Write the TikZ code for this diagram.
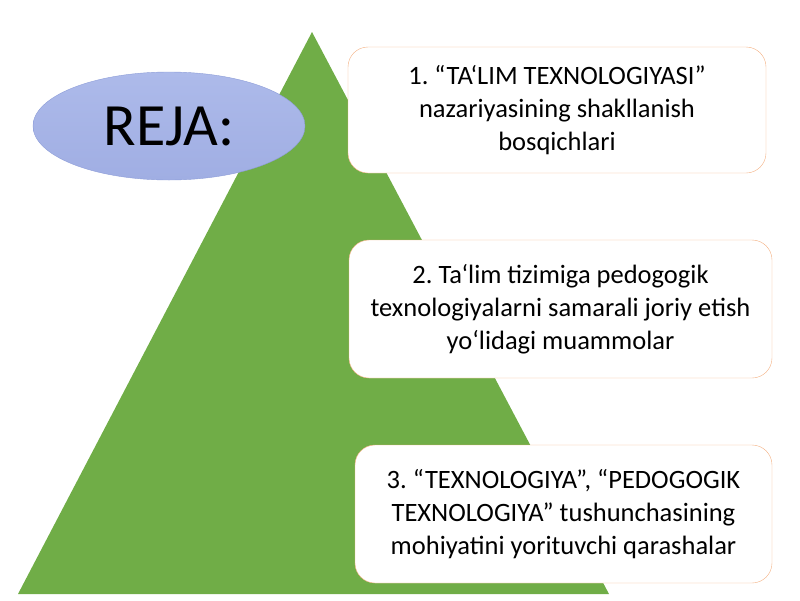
\documentclass[tikz,border=0pt]{standalone}
\usepackage{fontspec}
\setmainfont{Carlito}
\usepackage{tikz}
\usetikzlibrary{shapes.geometric}

\definecolor{trigreen}{HTML}{70AD47}
\definecolor{rejatop}{HTML}{ADBAEA}
\definecolor{rejabottom}{HTML}{A0AEE3}
\definecolor{rejaline}{HTML}{8D9DD8}
\definecolor{boxline}{HTML}{F4B183}
\frenchspacing

\begin{document}
\begin{tikzpicture}[x=1pt, y=-1pt]
  \useasboundingbox (0,0) rectangle (800,600);
  % green pyramid
  \fill[trigreen] (312,32) -- (609,594) -- (18,594) -- cycle;

  \draw node[ellipse, draw=rejaline, top color=rejatop, bottom color=rejabottom,
    minimum width=272pt, minimum height=108pt, inner sep=0pt,
    font=\fontsize{60}{72}\selectfont] (reja) at (169,126) {\raisebox{-4pt}{REJA:}};

\begin{scope}[every node/.style={rectangle, rounded corners=20pt, draw=boxline, fill=white,
    align=center, inner sep=0pt, font=\fontsize{26.5}{33}\selectfont}]
  \draw node[minimum width=418pt, minimum height=126pt] (punkt1) at (557,110)
    {1. “TA‘LIM TEXNOLOGIYASI”\\ nazariyasining shakllanish\\ bosqichlari};
  \draw node[minimum width=423pt, minimum height=138pt] (punkt2) at (560.5,309)
    {2. Ta‘lim tizimiga pedogogik\\ texnologiyalarni samarali joriy etish\\ yo‘lidagi muammolar};
  \draw node[minimum width=417pt, minimum height=138pt] (punkt3) at (563.5,514)
    {3. “TEXNOLOGIYA”, “PEDOGOGIK\\ TEXNOLOGIYA” tushunchasining\\ mohiyatini yorituvchi qarashalar};
\end{scope}
\end{tikzpicture}
\end{document}
